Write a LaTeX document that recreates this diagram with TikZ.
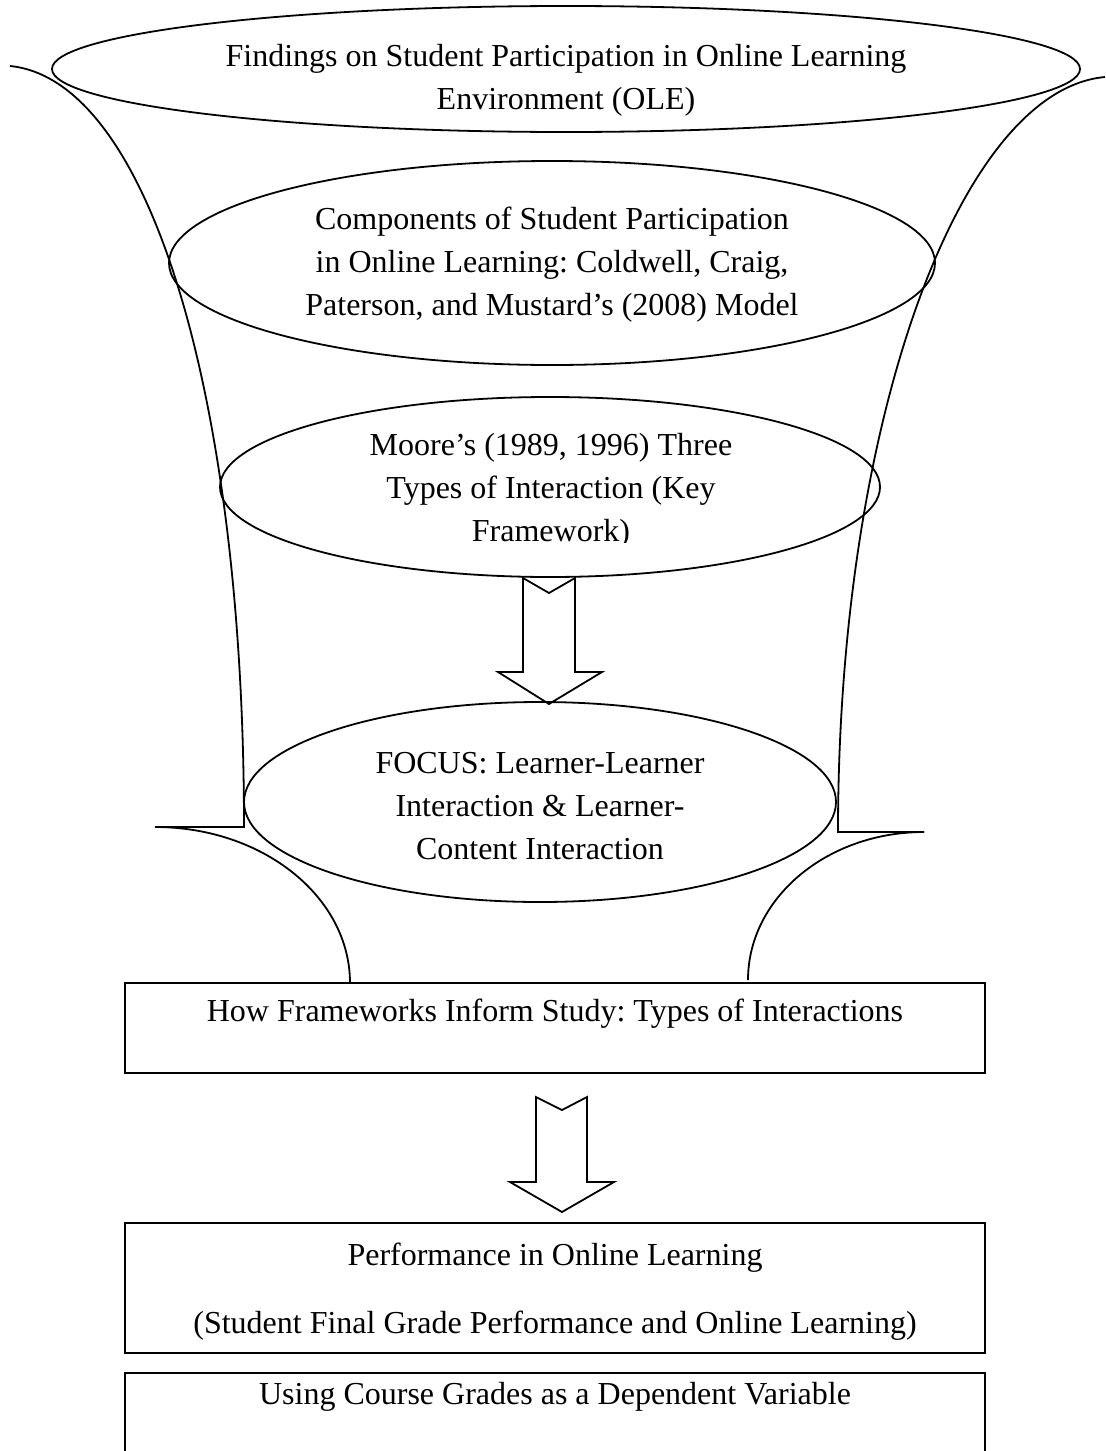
\documentclass[tikz,border=0pt]{standalone}
\usepackage{fontspec}
\setmainfont{Liberation Serif}
\frenchspacing

\begin{document}
\begin{tikzpicture}[x=0.5pt,y=0.5pt,yscale=-1,xscale=1,line width=0.9pt,
  txt/.style={font=\fontsize{16}{21.5}\selectfont,align=center,inner sep=0pt}]
\useasboundingbox (0,0) rectangle (1105,1451);
\clip (0,0) rectangle (1105,1451);

%Curve Lines [id:funnel_left] 
\draw    (10,66) .. controls (150,80) and (244,400) .. (244,827) -- (155,827) ;
%Curve Lines [id:foot_left] 
\draw    (155,827) .. controls (263,827) and (350,897) .. (350,983) ;


%Curve Lines [id:funnel_right] 
\draw    (1105,77) .. controls (960,90) and (838,420) .. (838,832) -- (924,832) ;
%Curve Lines [id:foot_right] 
\draw    (924,832) .. controls (827,832) and (748,898) .. (748,980) ;


%Shape: Ellipse [id:ell_findings] 
\draw   (566,69) ellipse (514 and 63) ;
%Shape: Ellipse [id:ell_components] 
\draw   (552,263) ellipse (383 and 102) ;
%Shape: Ellipse [id:ell_moore] 
\draw   (550,487) ellipse (330 and 90) ;
%Shape: Ellipse [id:ell_focus] 
\draw   (540,802) ellipse (296 and 100) ;


%Down Arrow [id:arrow_focus] 
\draw   (523,578) -- (549,593) -- (575,578) -- (575,672) -- (602,672) -- (549,704) -- (498,672) -- (523,672) -- cycle ;
%Down Arrow [id:arrow_performance] 
\draw   (536,1097) -- (562,1110) -- (587,1097) -- (587,1182) -- (614,1182) -- (562,1212) -- (510,1182) -- (536,1182) -- cycle ;


%Shape: Rectangle [id:box_inform] 
\draw   (125,983) rectangle (985,1073) ;
%Shape: Rectangle [id:box_performance] 
\draw   (125,1223) rectangle (985,1353) ;
%Shape: Rectangle [id:box_grades] 
\draw   (125,1373) rectangle (985,1480) ;



% Text Node
\node[txt] (findings) at (566,80) {Findings on Student Participation in Online Learning\\Environment (OLE)};
% Text Node
\node[txt] (components) at (552,265) {Components of Student Participation\\in Online Learning: Coldwell, Craig,\\Paterson, and Mustard’s (2008) Model};
% Text Node
\begin{scope}
\clip (200,380) rectangle (900,542);
\node[txt] (moore) at (551,491) {Moore’s (1989, 1996) Three\\Types of Interaction (Key\\Framework)};
\end{scope}
% Text Node
\node[txt] (focus) at (540,806) {FOCUS: Learner-Learner\\Interaction \& Learner-\\Content Interaction};
% Text Node
\node[txt] (inform) at (555,1014) {How Frameworks Inform Study: Types of Interactions};
% Text Node
\node[txt] (performance) at (555,1258) {Performance in Online Learning};
% Text Node
\node[txt] (finalgrade) at (555,1326) {(Student Final Grade Performance and Online Learning)};
% Text Node
\node[txt] (coursegrades) at (555,1397) {Using Course Grades as a Dependent Variable};


\end{tikzpicture}
\end{document}
